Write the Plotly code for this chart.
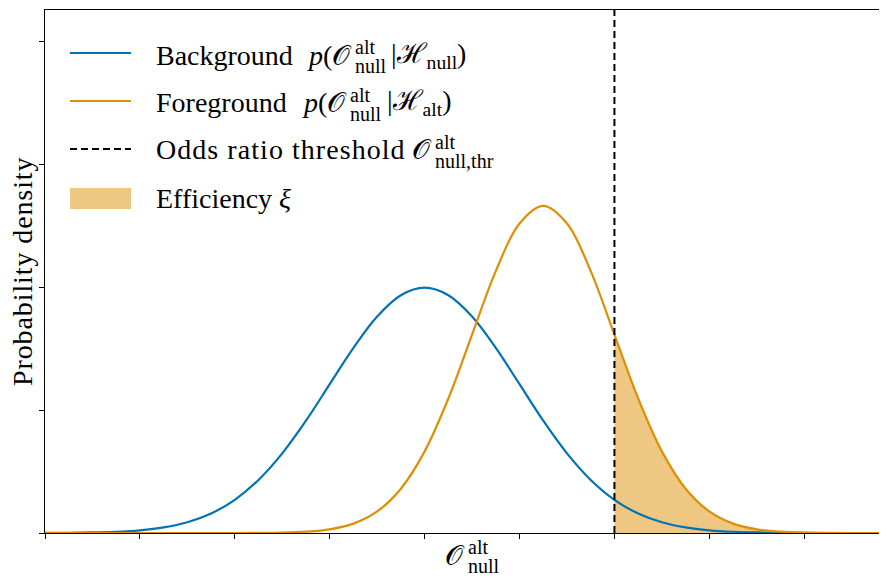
import plotly.graph_objects as go

# ---------------- data ----------------
X_GRID = [-4.0, -3.75, -3.5, -3.25, -3.0, -2.75, -2.5, -2.25, -2.0, -1.75, -1.5, -1.25,
          -1.0, -0.75, -0.5, -0.25, 0.0, 0.25, 0.5, 0.75, 1.0, 1.25, 1.5, 1.75,
          2.0, 2.25, 2.5, 2.75, 3.0, 3.25, 3.5, 3.75, 4.0, 4.25, 4.5, 4.75, 5.0]

BACKGROUND_PDF = [0.0001, 0.0004, 0.0009, 0.0020, 0.0044, 0.0091, 0.0175, 0.0317, 0.0540,
                  0.0863, 0.1295, 0.1826, 0.2420, 0.3011, 0.3521, 0.3867, 0.3989, 0.3867,
                  0.3521, 0.3011, 0.2420, 0.1826, 0.1295, 0.0863, 0.0540, 0.0317, 0.0175,
                  0.0091, 0.0044, 0.0020, 0.0009, 0.0004, 0.0001, 0.0, 0.0, 0.0, 0.0]

FOREGROUND_PDF = [0.0, 0.0, 0.0, 0.0, 0.0, 0.0, 0.0, 0.0, 0.0, 0.0002, 0.0006, 0.0021,
                  0.0059, 0.0152, 0.0350, 0.0720, 0.1327, 0.2187, 0.3226, 0.4259, 0.5032,
                  0.5319, 0.5032, 0.4259, 0.3226, 0.2187, 0.1327, 0.0720, 0.0350, 0.0152,
                  0.0059, 0.0021, 0.0006, 0.0002, 0.0, 0.0, 0.0]

THRESHOLD = 2.0
X_TICKS = [-4, -3, -2, -1, 0, 1, 2, 3, 4]
Y_TICKS = [0.0, 0.2, 0.4, 0.6, 0.8]
X_RANGE = [-4.0, 4.872]
Y_RANGE = [0.0, 0.8504]

Y_LABEL = "Probability density"
X_LABEL = ("", "𝒪", "alt", "null", "")
LEGEND_LABELS = [
    ("Background", "<i>p</i>(𝒪", "alt", "null", "|ℋ<sub>null</sub>)"),
    ("Foreground", "<i>p</i>(𝒪", "alt", "null", "|ℋ<sub>alt</sub>)"),
    ("Odds ratio threshold", "𝒪", "alt", "null,thr", ""),
    ("Efficiency <i>ξ</i>", "", "", "", ""),
]

BLUE = "#0173b2"
ORANGE = "#de8f05"
FILL = "rgba(222,143,5,0.5)"
FONT = "'Liberation Serif', 'DejaVu Serif', serif"
FS = 28
FS_S = 20

# ---------------- geometry (screen pixels; page body has an 8px margin) ----------------
OFF = 8
SCREEN_W, SCREEN_H = 887, 578
W, H = SCREEN_W - OFF, SCREEN_H - OFF
PLOT_LEFT, PLOT_TOP, PLOT_BOTTOM = 45, 10, 533
ML, MT = PLOT_LEFT - OFF, PLOT_TOP - OFF
MR, MB = 0, H - (PLOT_BOTTOM - OFF)
PW, PH = W - ML - MR, H - MT - MB


def px(xs):
    return (xs - PLOT_LEFT) / PW


def py(ys):
    return (PLOT_BOTTOM - ys) / PH


fig = go.Figure()

fill_x = [x for x in X_GRID if x >= THRESHOLD]
fill_y = [y for x, y in zip(X_GRID, FOREGROUND_PDF) if x >= THRESHOLD]
fig.add_trace(go.Scatter(x=fill_x, y=fill_y, mode="lines", line=dict(width=0, shape="spline"),
                         fill="tozeroy", fillcolor=FILL, showlegend=False, hoverinfo="skip"))
fig.add_trace(go.Scatter(x=X_GRID, y=BACKGROUND_PDF, mode="lines",
                         line=dict(color=BLUE, width=2.2, shape="spline"), showlegend=False))
fig.add_trace(go.Scatter(x=X_GRID, y=FOREGROUND_PDF, mode="lines",
                         line=dict(color=ORANGE, width=2.2, shape="spline"), showlegend=False))

fig.add_shape(type="line", xref="x", yref="paper", x0=THRESHOLD, x1=THRESHOLD, y0=0, y1=1,
              line=dict(color="black", width=2, dash="7px,4px"))

# ---------------- manual legend ----------------
rows_y = [53, 101, 149, 198]
baselines = [65, 113, 160, 208]
o_right = [353, 348, 433]
suffix_left = [390, 386, 0]
word_spacing = [0, 0, 1.05, 0]
line_styles = [dict(color=BLUE, width=2.2), dict(color=ORANGE, width=2.2),
               dict(color="black", width=2, dash="7px,4px")]
for i in range(3):
    fig.add_shape(type="line", xref="paper", yref="paper", x0=px(70), x1=px(131),
                  y0=py(rows_y[i]), y1=py(rows_y[i]), line=line_styles[i])
fig.add_shape(type="rect", xref="paper", yref="paper", x0=px(70), x1=px(131),
              y0=py(209), y1=py(188), fillcolor=FILL, line=dict(width=0))


def spaced(text, ls):
    if ls:
        return '<span style="letter-spacing:%.2fpx">%s</span>' % (ls, text)
    return text


def add_text(text, x, y, size, anchor, angle=0):
    fig.add_annotation(text=text, x=px(x), y=py(y), xref="paper", yref="paper",
                       xanchor=anchor, yanchor="middle", showarrow=False, textangle=angle,
                       borderpad=0, font=dict(family=FONT, size=size, color="black"))


def add_math(word, prefix, sup, sub, suffix, xo, base, xs, ls=0):
    if word:
        add_text(spaced(word, ls), 155, base - 10, FS, "left")
    add_text(prefix, xo, base - 10, FS, "right")
    add_text(sup, xo + 1, base - 18, FS_S, "left")
    add_text(sub, xo + 1, base + 1, FS_S, "left")
    if suffix:
        add_text(suffix, xs, base - 10, FS, "left")


for i, (word, pre, sup, sub, suf) in enumerate(LEGEND_LABELS):
    if sup:
        add_math(word, pre, sup, sub, suf, o_right[i], baselines[i], suffix_left[i],
                 word_spacing[i])
    else:
        add_text(word, 155, baselines[i] - 10, FS, "left")

# axis labels
add_math(X_LABEL[0], X_LABEL[1], X_LABEL[2], X_LABEL[3], X_LABEL[4], 466, 565, 0)
add_text(spaced(Y_LABEL, 0.9), 22, 272, FS, "center", angle=-90)

fig.update_xaxes(range=X_RANGE, tickvals=X_TICKS, showticklabels=False, ticks="outside",
                 ticklen=5, tickwidth=1, tickcolor="black", showline=True, linecolor="black",
                 linewidth=1, mirror=True, showgrid=False, zeroline=False)
fig.update_yaxes(range=Y_RANGE, tickvals=Y_TICKS, showticklabels=False, ticks="outside",
                 ticklen=5, tickwidth=1, tickcolor="black", showline=True, linecolor="black",
                 linewidth=1, mirror=False, showgrid=False, zeroline=False)

fig.update_layout(width=W, height=H, margin=dict(l=ML, r=MR, t=MT, b=MB, autoexpand=False),
                  paper_bgcolor="white", plot_bgcolor="white", showlegend=False,
                  font=dict(family=FONT, size=FS, color="black"))

fig.write_html("out.html")
